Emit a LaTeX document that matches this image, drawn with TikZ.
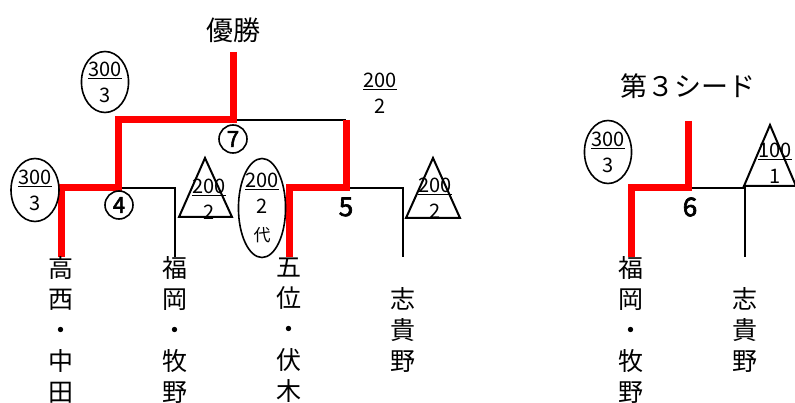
\documentclass[tikz,border=0pt]{standalone}
\usepackage{fontspec}
\setmainfont{Noto Sans CJK JP}[AutoFakeBold=2.5]
\usetikzlibrary{shapes.geometric,calc}
\tikzset{
  won/.style={draw=red, line width=7pt, line join=miter},
  lost/.style={draw=black, line width=2.5pt},
  seed/.style={draw, ellipse, line width=1.6pt, inner sep=0pt, align=center,
    font=\fontsize{20}{26}\selectfont},
  pts/.style={align=center, inner sep=0pt, font=\fontsize{20}{26}\selectfont},
  tri/.style={draw, line width=2pt, line join=miter},
  team/.style={align=center, inner sep=0pt, font=\fontsize{25}{31}\selectfont},
  title/.style={inner sep=0pt, font=\fontsize{27}{30}\selectfont},
  gamenum/.style={inner sep=0pt, font=\bfseries\fontsize{26}{26}\selectfont},
  gamecirc/.style={draw, circle, line width=1.6pt, minimum size=28pt, inner sep=0pt,
    font=\bfseries\fontsize{22}{22}\selectfont}
}
\newcommand{\frc}[2]{\underline{#1}\\#2}

\begin{document}
\begin{tikzpicture}[x=1pt,y=-1pt]
  \useasboundingbox (0,0) rectangle (795,403);

  % match points and team feet
  \coordinate (champ) at (233,52);
  \coordinate (m7) at (233,120);
  \coordinate (m4) at (118,188);
  \coordinate (m5) at (346,188);
  \coordinate (tn) at (61,257);
  \coordinate (fm) at (175,257);
  \coordinate (gf) at (289,257);
  \coordinate (sk) at (403,257);
  \coordinate (seed3) at (688,121);
  \coordinate (m6) at (688,188);
  \coordinate (fm2) at (631,257);
  \coordinate (sk2) at (745,257);

  % titles
  \node[title] (win) at (233,30) {優勝};
  \node[title] (third) at (688,86) {第３シード};

  % bracket lines
  \draw[lost] (m4) -| (fm);
  \draw[lost] (m5) -| (sk);
  \draw[lost] (m7) -- (m7 -| m5);
  \draw[lost] (m6) -| (sk2);
  \draw[won] (champ) -- (m7) -| (m4) -| (tn);
  \draw[won] (m7 -| m5) -- (m5) -| (gf);
  \draw[won] (seed3) -- (m6) -| (fm2);

  % match numbers
  \node[gamecirc] (g7) at (233,139) {7};
  \node[gamecirc] (g4) at (119,205) {4};
  \node[gamenum] (g5) at (346,207) {5};
  \node[gamenum] (g6) at (690,207) {6};

  % seeds and points
  \node[seed, minimum width=45pt, minimum height=61pt] (s1) at (105,82) {\frc{300}{3}};
  \node[seed, minimum width=48pt, minimum height=63pt] (s2) at (35,190) {\frc{300}{3}};
  \node[seed, minimum width=42pt, minimum height=99pt] (s3) at (262,208)
    {\underline{200}\\2\\[2pt]{\fontsize{17}{17}\selectfont 代}};
  \node[pts] (p1) at (380,93) {\frc{200}{2}};
  \node[seed, minimum width=47pt, minimum height=63pt] (s4) at (608,152) {\frc{300}{3}};

  \draw[tri] (205,158) -- (232,217) -- (179,217) -- cycle;
  \node[pts] (p2) at (209,199) {\frc{200}{2}};
  \draw[tri] (433,158) -- (460,218) -- (406,218) -- cycle;
  \node[pts] (p3) at (435,198) {\frc{200}{2}};
  \draw[tri] (770,125) -- (796,186) -- (744,186) -- cycle;
  \node[pts] (p4) at (775,163) {\frc{100}{1}};

  % teams
  \node[team] (tn-l) at (61,330) {高\\西\\・\\中\\田};
  \node[team] (fm-l) at (175,330) {福\\岡\\・\\牧\\野};
  \node[team] (gf-l) at (289,330) {五\\位\\・\\伏\\木};
  \node[team] (sk-l) at (403,330) {志\\貴\\野};
  \node[team] (fm2-l) at (631,330) {福\\岡\\・\\牧\\野};
  \node[team] (sk2-l) at (745,330) {志\\貴\\野};
\end{tikzpicture}
\end{document}
